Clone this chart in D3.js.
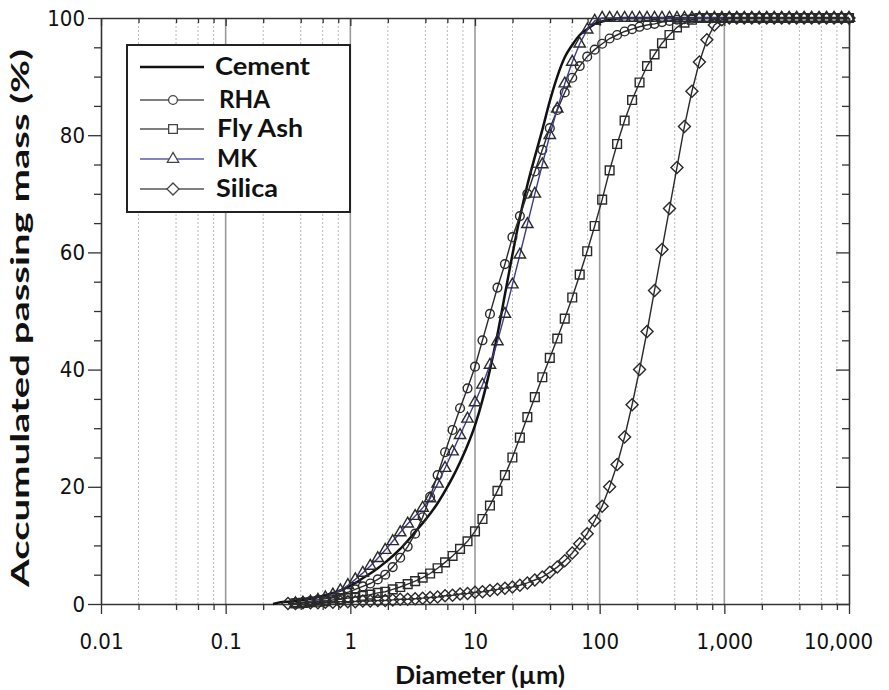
<!DOCTYPE html>
<html>
<head>
<meta charset="utf-8">
<script src="https://cdn.jsdelivr.net/npm/d3@7"></script>
<style>
body { margin: 0; background: #fff; }
svg text { fill: #111; }
</style>
</head>
<body>
<script>
// particle size classes (um), laser diffraction bins from 0.24 um up
var diameters = [
  0.2399, 0.2754, 0.3162, 0.3631, 0.4169, 0.4786, 0.5495, 0.631, 0.7244, 0.8318,
  0.955, 1.096, 1.259, 1.445, 1.66, 1.905, 2.188, 2.512, 2.884, 3.311,
  3.802, 4.365, 5.012, 5.754, 6.607, 7.586, 8.71, 10, 11.48, 13.18,
  15.14, 17.38, 19.95, 22.91, 26.3, 30.2, 34.67, 39.81, 45.71, 52.48,
  60.26, 69.18, 79.43, 91.2, 104.7, 120.2, 138, 158.5, 182, 208.9,
  239.9, 275.4, 316.2, 363.1, 416.9, 478.6, 549.5, 631, 724.4, 831.8,
  955, 1096, 1259, 1445, 1660, 1905, 2188, 2512, 2884, 3311,
  3802, 4365, 5012, 5754, 6607, 7586, 8710, 10000
];

var xTickValues = [0.01, 0.1, 1, 10, 100, 1000, 10000];
var xTickLabels = ["0.01", "0.1", "1", "10", "100", "1,000", "10,000"];
var yTickValues = [0, 20, 40, 60, 80, 100];

var seriesNames = ["Cement", "RHA", "Fly Ash", "MK", "Silica"];

// accumulated passing mass (%) for each diameter above
var cement = [
  0, 0.3, 0.4, 0.5, 0.7, 0.9, 1.2, 1.5, 1.9, 2.3,
  2.9, 3.6, 4.4, 5.2, 6.1, 7.1, 8.2, 9.4, 10.8, 12.3,
  13.8, 15.4, 17.2, 19.3, 21.6, 24.2, 27.1, 30.5, 34.8, 40.0,
  46.0, 52.8, 59.6, 66.0, 71.5, 76.3, 80.9, 85.8, 90.0, 93.3,
  95.4, 97.1, 98.1, 99.0, 99.4, 99.7, 99.9, 100, 100, 100,
  100, 100, 100, 100, 100, 100, 100, 100, 100, 100,
  100, 100, 100, 100, 100, 100, 100, 100, 100, 100,
  100, 100, 100, 100, 100, 100, 100, 100
];
var rha = [
  null, null, null, 0.2, 0.3, 0.5, 0.7, 0.9, 1.2, 1.6,
  2.0, 2.5, 3.0, 3.5, 4.2, 5.0, 6.3, 7.9, 9.8, 12.0,
  14.8, 18.3, 22.0, 25.9, 29.7, 33.4, 36.8, 40.5, 45.0, 49.5,
  54.0, 58.0, 62.6, 66.2, 70.0, 73.8, 77.5, 81.2, 84.3, 87.3,
  89.8, 91.8, 93.4, 94.6, 95.6, 96.5, 97.1, 97.7, 98.1, 98.5,
  98.8, 99.0, 99.3, 99.5, 99.7, 99.8, 99.9, 100, 100, 100,
  100, 100, 100, 100, 100, 100, 100, 100, 100, 100,
  100, 100, 100, 100, 100, 100, 100, 100
];
var flyAsh = [
  null, null, null, 0.1, 0.2, 0.3, 0.4, 0.5, 0.7, 0.8,
  1.0, 1.2, 1.4, 1.6, 1.9, 2.1, 2.5, 2.9, 3.4, 3.9,
  4.5, 5.2, 6.1, 7.1, 8.2, 9.4, 10.7, 12.4, 14.5, 16.8,
  19.3, 22.0, 25.0, 28.4, 31.9, 35.3, 38.7, 42.0, 45.3, 48.7,
  52.3, 56.2, 60.2, 64.5, 69.0, 74.0, 78.5, 82.5, 86.0, 89.0,
  91.8, 93.8, 95.7, 97.1, 98.4, 99.2, 99.7, 100, 100, 100,
  100, 100, 100, 100, 100, 100, 100, 100, 100, 100,
  100, 100, 100, 100, 100, 100, 100, 100
];
var mk = [
  null, null, null, 0.1, 0.2, 0.4, 0.7, 1.1, 1.6, 2.3,
  3.2, 4.2, 5.3, 6.5, 7.8, 9.2, 10.7, 12.2, 13.7, 15.0,
  16.4, 18.0, 20.5, 23.2, 26.0, 28.8, 31.6, 34.4, 37.4, 40.8,
  44.8, 49.5, 54.5, 59.6, 64.8, 70.0, 75.0, 80.0, 84.5, 88.8,
  92.5, 95.6, 98.0, 99.5, 100, 100, 100, 100, 100, 100,
  100, 100, 100, 100, 100, 100, 100, 100, 100, 100,
  100, 100, 100, 100, 100, 100, 100, 100, 100, 100,
  100, 100, 100, 100, 100, 100, 100, 100
];
var silica = [
  null, null, 0.1, 0.1, 0.2, 0.2, 0.2, 0.3, 0.3, 0.4,
  0.4, 0.4, 0.5, 0.5, 0.6, 0.6, 0.7, 0.8, 0.8, 0.9,
  1.0, 1.1, 1.2, 1.4, 1.5, 1.7, 1.8, 2.0, 2.1, 2.3,
  2.5, 2.7, 2.9, 3.2, 3.6, 4.1, 4.6, 5.4, 6.3, 7.4,
  8.7, 10.3, 12.0, 14.2, 16.7, 20.0, 23.8, 28.5, 34.0, 40.0,
  46.5, 53.5, 60.5, 67.5, 74.5, 81.5, 87.5, 92.5, 96.3, 98.8,
  99.7, 100, 100, 100, 100, 100, 100, 100, 100, 100,
  100, 100, 100, 100, 100, 100, 100, 100
];

var seriesValues = [cement, rha, flyAsh, mk, silica];
var seriesMarkers = [null, "circle", "square", "triangle", "diamond"];
var seriesColors = ["#111", "#2a2a2a", "#2a2a2a", "#3d3d8f", "#2a2a2a"];

var width = 889, height = 690;

var svg = d3.select("body").append("svg")
    .attr("width", width)
    .attr("height", height);

var x = d3.scaleLog().domain([0.01, 10000]).range([101, 849]);
var y = d3.scaleLinear().domain([0, 100]).range([604, 18]);

// minor log positions 2,4,6,8 in each decade
var minorX = [];
xTickValues.slice(0, -1).forEach(function (d) {
    [2, 4, 6, 8].forEach(function (m) { minorX.push(d * m); });
});
var minorY = d3.range(0, 101, 5).filter(function (d) { return d % 20 != 0; });

// grid
svg.append("g").selectAll("line")
    .data(minorX)
    .join("line")
    .attr("x1", function (d) { return x(d); })
    .attr("x2", function (d) { return x(d); })
    .attr("y1", y(100)).attr("y2", y(0))
    .attr("stroke", "#b8b8b8")
    .attr("stroke-dasharray", "2,2");

svg.append("g").selectAll("line")
    .data(xTickValues.slice(1, -1))
    .join("line")
    .attr("x1", function (d) { return x(d); })
    .attr("x2", function (d) { return x(d); })
    .attr("y1", y(100)).attr("y2", y(0))
    .attr("stroke", "#9a9a9a")
    .attr("stroke-width", 1.6);

function styleAxis(g) {
    g.selectAll("path.domain").attr("stroke", "#333").attr("stroke-width", 1.6);
    g.selectAll(".tick line").attr("stroke", "#333").attr("stroke-width", 1.3);
    g.selectAll("text")
        .style("font-family", "'DejaVu Sans Condensed', 'DejaVu Sans', sans-serif")
        .style("font-size", "22px")
        .attr("fill", "#111");
}

// bottom axis
var xAxis = svg.append("g")
    .attr("transform", "translate(0," + y(0) + ")")
    .call(d3.axisBottom(x).tickValues(xTickValues)
        .tickFormat(function (d, i) { return xTickLabels[i]; })
        .tickSize(10).tickSizeOuter(0).tickPadding(24))
    .call(styleAxis);
xAxis.selectAll("text").attr("dy", "0.5em");
xAxis.selectAll(".tick:last-child text").attr("dx", -11);

svg.append("g")
    .attr("transform", "translate(0," + y(0) + ")")
    .call(d3.axisBottom(x).tickValues(minorX).tickFormat("").tickSize(6).tickSizeOuter(0))
    .call(styleAxis)
    .select("path.domain").remove();

// top frame with inner ticks
svg.append("g")
    .attr("transform", "translate(0," + y(100) + ")")
    .call(d3.axisBottom(x).tickValues(xTickValues).tickFormat("").tickSize(8).tickSizeOuter(0))
    .call(styleAxis);
svg.append("g")
    .attr("transform", "translate(0," + y(100) + ")")
    .call(d3.axisBottom(x).tickValues(minorX).tickFormat("").tickSize(5).tickSizeOuter(0))
    .call(styleAxis)
    .select("path.domain").remove();

// left axis
svg.append("g")
    .attr("transform", "translate(" + x(0.01) + ",0)")
    .call(d3.axisLeft(y).tickValues(yTickValues).tickSize(13).tickSizeOuter(0).tickPadding(3))
    .call(styleAxis);
svg.append("g")
    .attr("transform", "translate(" + x(0.01) + ",0)")
    .call(d3.axisLeft(y).tickValues(minorY).tickFormat("").tickSize(7).tickSizeOuter(0))
    .call(styleAxis)
    .select("path.domain").remove();

// right frame, ticks pointing in
svg.append("g")
    .attr("transform", "translate(" + x(10000) + ",0)")
    .call(d3.axisLeft(y).tickValues(yTickValues).tickFormat("").tickSize(13).tickSizeOuter(0))
    .call(styleAxis);
svg.append("g")
    .attr("transform", "translate(" + x(10000) + ",0)")
    .call(d3.axisLeft(y).tickValues(minorY).tickFormat("").tickSize(7).tickSizeOuter(0))
    .call(styleAxis)
    .select("path.domain").remove();

// axis titles
svg.append("text")
    .attr("x", 480).attr("y", 684)
    .attr("text-anchor", "middle")
    .attr("textLength", 170).attr("lengthAdjust", "spacingAndGlyphs")
    .style("font-family", "Lato, 'Open Sans', sans-serif")
    .style("font-weight", "bold")
    .style("font-size", "25px")
    .text("Diameter (µm)");

svg.append("text")
    .attr("transform", "translate(29,318) rotate(-90)")
    .attr("text-anchor", "middle")
    .attr("textLength", 538).attr("lengthAdjust", "spacingAndGlyphs")
    .style("font-family", "Lato, 'Open Sans', sans-serif")
    .style("font-weight", "bold")
    .style("font-size", "25px")
    .text("Accumulated passing mass (%)");

// markers
function markerPath(kind) {
    if (kind == "circle") return d3.symbol(d3.symbolCircle, 60)();
    if (kind == "square") return d3.symbol(d3.symbolSquare, 76)();
    if (kind == "triangle") return d3.symbol(d3.symbolTriangle, 56)();
    if (kind == "diamond") return d3.symbol(d3.symbolSquare, 72)();
    return null;
}
function markerTransform(kind, px, py) {
    var t = "translate(" + px + "," + py + ")";
    if (kind == "diamond") t += " rotate(45)";
    return t;
}

var line = d3.line()
    .defined(function (d) { return d.v != null; })
    .x(function (d) { return x(d.d); })
    .y(function (d) { return y(d.v); });

seriesNames.forEach(function (name, s) {
    var pts = diameters.map(function (d, i) { return {d: d, v: seriesValues[s][i]}; });
    var g = svg.append("g").attr("class", "series");
    g.append("path")
        .datum(pts)
        .attr("fill", "none")
        .attr("stroke", seriesColors[s])
        .attr("stroke-width", s == 0 ? 2.5 : 1.4)
        .attr("d", s == 0 ? line.curve(d3.curveMonotoneX) : line.curve(d3.curveLinear));
    var kind = seriesMarkers[s];
    if (kind) {
        g.selectAll("path.mark")
            .data(pts.filter(function (d) { return d.v != null; }))
            .join("path")
            .attr("class", "mark")
            .attr("d", markerPath(kind))
            .attr("transform", function (d) { return markerTransform(kind, x(d.d), y(d.v)); })
            .attr("fill", "none")
            .attr("stroke", "#2a2a2a")
            .attr("stroke-width", 1.4);
    }
});

// legend
var legendRowY = [67, 100, 129, 159, 189];
var legendTextX = [215, 219, 217, 217, 216];
var legendTextLen = [95, 51, 86, 40, 62];

var legend = svg.append("g");
legend.append("rect")
    .attr("x", 127).attr("y", 45)
    .attr("width", 223).attr("height", 167)
    .attr("fill", "#fff")
    .attr("stroke", "#222")
    .attr("stroke-width", 2);

seriesNames.forEach(function (name, s) {
    var ly = legendRowY[s];
    legend.append("line")
        .attr("x1", 140).attr("x2", 204)
        .attr("y1", ly).attr("y2", ly)
        .attr("stroke", s == 0 ? "#111" : (s == 3 ? "#5a5aa8" : "#555"))
        .attr("stroke-width", s == 0 ? 2.6 : 1.6);
    var kind = seriesMarkers[s];
    if (kind) {
        legend.append("path")
            .attr("d", markerPath(kind))
            .attr("transform", markerTransform(kind, 173, ly))
            .attr("fill", "#fff")
            .attr("stroke", "#444")
            .attr("stroke-width", 1.3);
    }
    legend.append("text")
        .attr("x", legendTextX[s]).attr("y", ly + 8)
        .attr("textLength", legendTextLen[s]).attr("lengthAdjust", "spacingAndGlyphs")
        .style("font-family", "Lato, 'Open Sans', sans-serif")
        .style("font-weight", "bold")
        .style("font-size", "24px")
        .text(name);
});
</script>
</body>
</html>
